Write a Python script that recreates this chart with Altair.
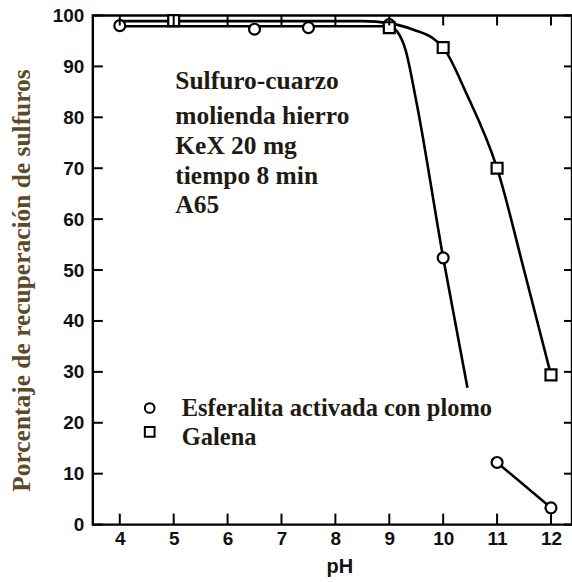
import altair as alt
import pandas as pd

# Measured recoveries (markers)
ph_esf = [4, 6.5, 7.5, 9, 10, 11, 12]
rec_esf = [98.0, 97.3, 97.6, 98.2, 52.4, 12.2, 3.3]
ph_gal = [5, 9, 10, 11, 12]
rec_gal = [99.0, 97.6, 93.7, 70.0, 29.4]

# Hand-drawn trend curves through the data
esf_curve_ph = [4, 9, 9.15, 9.3, 9.5, 10, 10.45]
esf_curve_rec = [97.9, 97.9, 96.8, 93.3, 83.2, 52.4, 26.9]
esf_tail_ph = [11, 12]
esf_tail_rec = [12.2, 3.3]
gal_curve_ph = [4, 8.5, 9, 9.45, 9.8, 10, 10.43, 11, 11.5, 12]
gal_curve_rec = [98.9, 98.9, 98.5, 97.2, 95.6, 93.7, 84.7, 70.0, 50.0, 29.4]

# Axis ticks
x_ticks = [4, 5, 6, 7, 8, 9, 10, 11, 12]
y_ticks = [0, 10, 20, 30, 40, 50, 60, 70, 80, 90, 100]

# Annotation block
note_lines = ["Sulfuro-cuarzo", "molienda hierro", "KeX 20 mg", "tiempo 8 min", "A65"]
note_ph = [5.03, 5.03, 5.03, 5.03, 5.03]
note_rec = [85.5, 78.6, 72.7, 66.9, 61.2]

# Legend entries
legend_labels = ["Esferalita activada con plomo", "Galena"]
legend_shapes = ["circle", "square"]
legend_mark_ph = [4.555, 4.555]
legend_mark_rec = [22.9, 18.2]
legend_text_ph = [5.15, 5.15]
legend_text_rec = [21.4, 15.7]

W, H = 480, 510
X_DOMAIN = [3.5, 12.39]
Y_DOMAIN = [0, 100]
TEXT_COLOR = "#1f1b12"
TITLE_COLOR = "#5c4a28"

x_scale = alt.Scale(domain=X_DOMAIN, nice=False, zero=False)
y_scale = alt.Scale(domain=Y_DOMAIN, nice=False)

curves = pd.concat([
    pd.DataFrame({"ph": esf_curve_ph, "rec": esf_curve_rec, "seg": "esf"}),
    pd.DataFrame({"ph": esf_tail_ph, "rec": esf_tail_rec, "seg": "esf_tail"}),
    pd.DataFrame({"ph": gal_curve_ph, "rec": gal_curve_rec, "seg": "gal"}),
], ignore_index=True)

esf_pts = pd.DataFrame({"ph": ph_esf, "rec": rec_esf})
gal_pts = pd.DataFrame({"ph": ph_gal, "rec": rec_gal})

x_enc = alt.X("ph:Q", scale=x_scale,
              axis=alt.Axis(values=x_ticks, title="pH", ticks=False, domain=False,
                            grid=False, labelPadding=5, labelFont="Liberation Sans",
                            labelFontWeight="bold", labelFontSize=19, labelColor="#111",
                            titleFont="Liberation Sans", titleFontWeight="bold",
                            titleFontSize=20, titleColor="#111", titleX=247, titleY=42,
                            titleBaseline="middle"))
y_enc = alt.Y("rec:Q", scale=y_scale,
              axis=alt.Axis(values=y_ticks, title="Porcentaje de recuperación de sulfuros",
                            ticks=False, domain=False, grid=False, labelPadding=9,
                            labelFont="Liberation Sans", labelFontWeight="bold",
                            labelFontSize=19, labelColor="#111",
                            titleFont="Liberation Serif", titleFontWeight="bold",
                            titleFontSize=25.5, titleColor=TITLE_COLOR, titleAngle=270,
                            titleX=-71, titleY=265, titleBaseline="middle",
                            titleAlign="center"))

lines = alt.Chart(curves).mark_line(color="black", strokeWidth=2.6,
                                    interpolate="monotone").encode(
    x=x_enc, y=y_enc, detail="seg:N")

esf_marks = alt.Chart(esf_pts).mark_point(shape="circle", size=120, filled=True,
                                          fill="white", stroke="black",
                                          strokeWidth=2.2, opacity=1).encode(
    x=alt.X("ph:Q", scale=x_scale), y=alt.Y("rec:Q", scale=y_scale))
gal_marks = alt.Chart(gal_pts).mark_point(shape="square", size=120, filled=True,
                                          fill="white", stroke="black",
                                          strokeWidth=2.2, opacity=1).encode(
    x=alt.X("ph:Q", scale=x_scale), y=alt.Y("rec:Q", scale=y_scale))

# Inward ticks on all four sides
xt = pd.DataFrame({"ph": x_ticks})
yt = pd.DataFrame({"rec": y_ticks})
tick_style = dict(color="black", strokeWidth=2)
left_ticks = alt.Chart(yt).mark_rule(**tick_style).encode(
    y=alt.Y("rec:Q", scale=y_scale), x=alt.value(0), x2=alt.value(10))
right_ticks = alt.Chart(yt).mark_rule(**tick_style).encode(
    y=alt.Y("rec:Q", scale=y_scale), x=alt.value(W - 8), x2=alt.value(W))
top_ticks = alt.Chart(xt).mark_rule(**tick_style).encode(
    x=alt.X("ph:Q", scale=x_scale), y=alt.value(0), y2=alt.value(10))
bottom_ticks = alt.Chart(xt).mark_rule(**tick_style).encode(
    x=alt.X("ph:Q", scale=x_scale), y=alt.value(H - 11), y2=alt.value(H))

notes = alt.Chart(pd.DataFrame({"ph": note_ph, "rec": note_rec, "t": note_lines})).mark_text(
    align="left", baseline="alphabetic", font="Liberation Serif", fontWeight="bold",
    fontSize=25.5, color=TEXT_COLOR).encode(
    x=alt.X("ph:Q", scale=x_scale), y=alt.Y("rec:Q", scale=y_scale), text="t:N")

legend_marks = alt.Chart(pd.DataFrame({"ph": legend_mark_ph, "rec": legend_mark_rec,
                                       "shape": legend_shapes})).mark_point(
    size=95, filled=True, fill="white", stroke="black", strokeWidth=2, opacity=1).encode(
    x=alt.X("ph:Q", scale=x_scale), y=alt.Y("rec:Q", scale=y_scale),
    shape=alt.Shape("shape:N", scale=None, legend=None))

legend_text = alt.Chart(pd.DataFrame({"ph": legend_text_ph, "rec": legend_text_rec,
                                      "t": legend_labels})).mark_text(
    align="left", baseline="alphabetic", font="Liberation Serif", fontWeight="bold",
    fontSize=24.5, color=TEXT_COLOR).encode(
    x=alt.X("ph:Q", scale=x_scale), y=alt.Y("rec:Q", scale=y_scale), text="t:N")

chart = alt.layer(
    lines, esf_marks, gal_marks, left_ticks, right_ticks, top_ticks, bottom_ticks,
    notes, legend_marks, legend_text
).properties(
    width=W, height=H,
    padding={"left": 93, "top": 15, "right": 0, "bottom": 57},
    autosize=alt.AutoSizeParams(type="none"),
    background="white",
).configure_view(stroke="black", strokeWidth=2.4)

chart.save("out.html", embed_options={"renderer": "svg", "actions": False})
